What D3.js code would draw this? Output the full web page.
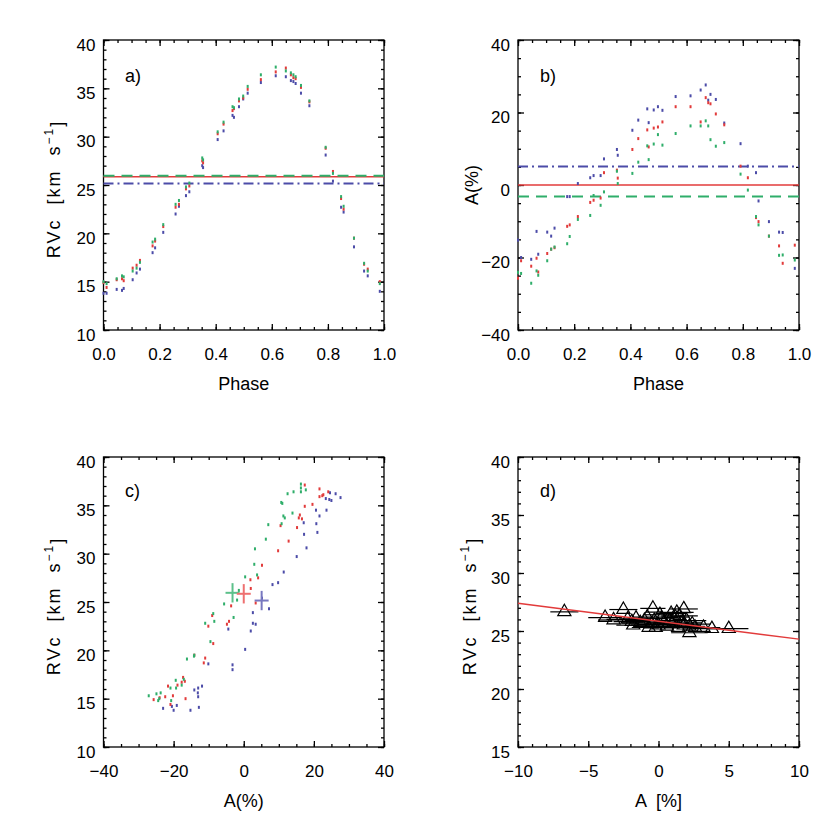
<!DOCTYPE html>
<meta charset="utf-8">
<style>
  body { margin: 0; background: #fff; }
  svg text { font-family: "Liberation Sans", "DejaVu Sans", sans-serif; fill: #000; }
  .axis path, .axis line { stroke: #000; stroke-width: 1.3px; }
  .axis text { font-size: 17px; }
</style>
<body>
<svg width="830" height="830"></svg>
<script src="https://cdnjs.cloudflare.com/ajax/libs/d3/7.8.5/d3.min.js"></script>
<script>
// orbital phase of each spectrum
var phase = [0.000, 0.011, 0.047, 0.066, 0.072, 0.104, 0.118, 0.130, 0.175, 0.184,
  0.213, 0.257, 0.269, 0.294, 0.306, 0.352, 0.355, 0.407, 0.428, 0.460,
  0.465, 0.483, 0.498, 0.514, 0.561, 0.614, 0.650, 0.668, 0.677, 0.685,
  0.704, 0.734, 0.792, 0.818, 0.847, 0.856, 0.893, 0.929, 0.942, 0.985];

// RVc (km/s) per line
var rvRed = [14.9, 14.4, 15.2, 15.3, 15.1, 16.4, 16.7, 17.2, 18.7, 19.2,
  20.7, 22.7, 23.0, 24.6, 24.9, 27.5, 27.3, 30.3, 31.3, 32.7,
  32.9, 33.7, 34.0, 34.9, 35.9, 36.7, 37.1, 36.4, 36.1, 36.0,
  35.1, 33.6, 28.8, 26.4, 23.6, 22.5, 19.5, 16.8, 16.3, 15.0];
var rvGreen = [15.0, 14.8, 15.3, 15.6, 15.5, 16.1, 16.4, 17.0, 19.1, 19.4,
  20.9, 23.0, 23.4, 24.8, 25.2, 27.8, 27.6, 30.5, 31.5, 33.1,
  33.0, 33.9, 34.2, 35.2, 36.4, 37.2, 36.8, 36.6, 36.4, 36.2,
  35.3, 33.7, 28.9, 26.2, 23.8, 22.8, 19.5, 16.9, 16.1, 14.8];
var rvBlue = [13.8, 13.8, 14.2, 14.1, 14.3, 15.2, 15.9, 16.3, 18.0, 18.5,
  20.1, 22.0, 22.8, 23.9, 24.3, 27.0, 26.8, 29.7, 30.6, 32.2,
  32.0, 33.1, 33.9, 34.5, 35.6, 36.3, 36.2, 35.8, 35.7, 35.5,
  34.5, 33.2, 28.1, 25.4, 22.7, 22.2, 18.6, 16.1, 15.6, 14.0];

// asymmetry A (%) per line
var aRed = [-25.7, -20.9, -22.4, -20.2, -24.0, -18.9, -17.7, -17.3, -11.4, -11.0,
  -8.7, -4.8, -4.2, -3.6, 3.4, 4.1, 1.9, 9.8, 12.8, 15.2,
  10.5, 15.7, 16.0, 17.4, 21.6, 21.6, 17.4, 24.1, 22.7, 22.4,
  19.6, 16.6, 5.2, 2.0, -9.0, -10.1, -14.1, -16.8, -21.6, -16.6];
var aGreen = [-24.1, -24.4, -27.1, -23.7, -24.9, -20.9, -17.7, -17.1, -16.2, -14.2,
  -9.5, -8.4, -2.9, -5.6, -1.9, 3.8, 0.4, 3.2, 6.3, 10.8,
  7.0, 11.3, 13.9, 11.0, 14.2, 16.3, 16.3, 17.7, 16.3, 12.5,
  10.7, 11.7, 3.0, -1.4, -8.7, -11.0, -14.1, -19.4, -19.3, -20.7];
var aBlue = [-15.2, -20.0, -20.5, -12.8, -19.1, -13.0, -14.1, -11.9, -3.2, -3.2,
  0.4, 2.0, 2.6, 2.6, 7.2, 9.8, 8.2, 15.1, 17.9, 21.0,
  17.2, 20.7, 21.6, 20.6, 24.4, 24.6, 26.2, 27.6, 23.4, 25.0,
  23.6, 17.1, 11.4, 5.2, 3.4, -4.4, -10.1, -13.0, -13.1, -23.0];

// mean values: red, green, blue
var meanA = [0.0, -3.2, 5.1];
var meanRV = [25.85, 25.95, 25.15];
var errA = [2.0, 2.0, 2.0];
var errRV = [1.0, 1.0, 1.0];

// panel d: mean asymmetry vs RVc, with error on A
var dA = [-6.7, -3.8, -3.2, -2.5, -1.9, -0.7, -0.4, 0.9, 1.3, 1.8,
  2.2, 3.2, 3.8, 5.0, -2.2, -1.6, -1.3, -1.0, -0.8, -0.5,
  -0.3, 0.0, 0.2, 0.4, 0.6, 0.8, 1.0, 1.2, 1.4, 1.6,
  1.8, 2.0, 2.2, 2.4, -1.8, 0.1, 1.5, 2.6, -0.2];
var dRV = [26.65, 26.15, 25.95, 26.85, 25.8, 25.3, 26.95, 26.5, 26.6, 26.9,
  24.85, 25.3, 25.2, 25.2, 26.0, 26.1, 25.7, 25.9, 26.2, 25.6,
  25.9, 25.5, 26.1, 25.7, 25.4, 25.9, 25.6, 26.2, 25.3, 25.7,
  25.5, 25.9, 25.4, 25.6, 25.5, 26.4, 26.3, 25.3, 25.3];
var dErr = [1.0, 1.2, 1.1, 1.0, 1.3, 1.2, 0.9, 1.1, 1.2, 1.0,
  1.3, 1.2, 1.4, 1.4, 1.5, 1.2, 1.3, 1.4, 1.1, 1.5,
  1.2, 1.4, 1.3, 1.1, 1.5, 1.2, 1.4, 1.0, 1.3, 1.5,
  1.2, 1.4, 1.1, 1.3, 1.2, 1.0, 1.3, 1.4, 1.2];
var fitA = [-10, 10];
var fitRV = [27.4, 24.3];

var colRed = "#e23b3b", colGreen = "#2fae6a", colBlue = "#4c4ca8";
var crossCol = ["#ee7070", "#5cc08a", "#7878c0"];

var svg = d3.select("svg");

function frame(box, x, y, xMaj, xMin, yMaj, yMin, xFmt, yFmt) {
  var g = svg.append("g");
  g.append("g").attr("class", "axis").attr("transform", "translate(0," + box.y1 + ")")
    .call(d3.axisBottom(x).tickValues(xMaj).tickSizeInner(-6).tickSizeOuter(0).tickPadding(18).tickFormat(xFmt));
  g.append("g").attr("class", "axis").attr("transform", "translate(0," + box.y1 + ")")
    .call(d3.axisBottom(x).tickValues(xMin).tickSizeInner(-3).tickSizeOuter(0).tickFormat(""));
  g.append("g").attr("class", "axis").attr("transform", "translate(0," + box.y0 + ")")
    .call(d3.axisTop(x).tickValues(xMaj).tickSizeInner(-6).tickSizeOuter(0).tickFormat(""));
  g.append("g").attr("class", "axis").attr("transform", "translate(0," + box.y0 + ")")
    .call(d3.axisTop(x).tickValues(xMin).tickSizeInner(-3).tickSizeOuter(0).tickFormat(""));
  var ly = g.append("g").attr("class", "axis").attr("transform", "translate(" + box.x0 + ",0)")
    .call(d3.axisLeft(y).tickValues(yMaj).tickSizeInner(-6).tickSizeOuter(0).tickPadding(8).tickFormat(yFmt));
  ly.selectAll("text").attr("dy", "0.6em");
  g.append("g").attr("class", "axis").attr("transform", "translate(" + box.x0 + ",0)")
    .call(d3.axisLeft(y).tickValues(yMin).tickSizeInner(-3).tickSizeOuter(0).tickFormat(""));
  g.append("g").attr("class", "axis").attr("transform", "translate(" + box.x1 + ",0)")
    .call(d3.axisRight(y).tickValues(yMaj).tickSizeInner(-6).tickSizeOuter(0).tickFormat(""));
  g.append("g").attr("class", "axis").attr("transform", "translate(" + box.x1 + ",0)")
    .call(d3.axisRight(y).tickValues(yMin).tickSizeInner(-3).tickSizeOuter(0).tickFormat(""));
  g.selectAll(".axis .domain").remove();
  g.append("rect").attr("x", box.x0).attr("y", box.y0)
    .attr("width", box.x1 - box.x0).attr("height", box.y1 - box.y0)
    .attr("fill", "none").attr("stroke", "#000").attr("stroke-width", 1.3);
  return g;
}

function steps(a, b, s) {
  return d3.range(Math.round((b - a) / s) + 1).map(function(i) { return +(a + i * s).toFixed(4); });
}

function minus(v) { return d3.format("")(v).replace("-", "\u2212"); }

function rvLabel(cx, cy) {
  var t = svg.append("text").attr("transform", "translate(" + cx + "," + cy + ") rotate(-90)")
    .attr("text-anchor", "middle").style("font-size", "18px").style("white-space", "pre")
    .style("letter-spacing", "2px");
  t.append("tspan").text("RVc  [km  s");
  t.append("tspan").attr("dy", "-0.55em").style("font-size", "12px").text("\u22121");
  t.append("tspan").attr("dy", "0.55em").text("]");
}

function dots(g, x, y, xs, ys, col) {
  g.selectAll(null).data(xs).enter().append("rect")
    .attr("x", function(d) { return x(d) - 1; })
    .attr("y", function(d, i) { return y(ys[i]) - 1.5; })
    .attr("width", 2).attr("height", 3).attr("fill", col);
}

var boxA = {x0: 103.5, x1: 384, y0: 40, y1: 330};
var boxB = {x0: 518, x1: 799, y0: 40, y1: 330};
var boxC = {x0: 103.5, x1: 384, y0: 457, y1: 747};
var boxD = {x0: 518, x1: 799, y0: 457, y1: 747};

// ---- a) phase vs RVc
var xa = d3.scaleLinear().domain([0, 1]).range([boxA.x0, boxA.x1]);
var ya = d3.scaleLinear().domain([10, 40]).range([boxA.y1, boxA.y0]);
var ga = frame(boxA, xa, ya, steps(0, 1, 0.2), steps(0, 1, 0.05), steps(10, 40, 5), steps(10, 40, 1),
  d3.format(".1f"), d3.format("d"));
ga.append("line").attr("x1", xa(0)).attr("x2", xa(1)).attr("y1", ya(meanRV[0])).attr("y2", ya(meanRV[0]))
  .attr("stroke", colRed).attr("stroke-width", 1.5);
ga.append("line").attr("x1", xa(0)).attr("x2", xa(1)).attr("y1", ya(meanRV[1])).attr("y2", ya(meanRV[1]))
  .attr("stroke", colGreen).attr("stroke-width", 2).attr("stroke-dasharray", "11,7");
ga.append("line").attr("x1", xa(0)).attr("x2", xa(1)).attr("y1", ya(meanRV[2])).attr("y2", ya(meanRV[2]))
  .attr("stroke", colBlue).attr("stroke-width", 2).attr("stroke-dasharray", "10,4,2,4");
dots(ga, xa, ya, phase, rvBlue, colBlue);
dots(ga, xa, ya, phase, rvRed, colRed);
dots(ga, xa, ya, phase, rvGreen, colGreen);
svg.append("text").attr("x", 125).attr("y", 82).style("font-size", "18px").text("a)");
svg.append("text").attr("x", xa(0.5)).attr("y", 390).attr("text-anchor", "middle").style("font-size", "18px").text("Phase");
rvLabel(60, 189);

// ---- b) phase vs A
var xb = d3.scaleLinear().domain([0, 1]).range([boxB.x0, boxB.x1]);
var yb = d3.scaleLinear().domain([-40, 40]).range([boxB.y1, boxB.y0]);
var gb = frame(boxB, xb, yb, steps(0, 1, 0.2), steps(0, 1, 0.05), steps(-40, 40, 20), steps(-40, 40, 5),
  d3.format(".1f"), minus);
gb.append("line").attr("x1", xb(0)).attr("x2", xb(1)).attr("y1", yb(meanA[0])).attr("y2", yb(meanA[0]))
  .attr("stroke", colRed).attr("stroke-width", 1.5);
gb.append("line").attr("x1", xb(0)).attr("x2", xb(1)).attr("y1", yb(meanA[1])).attr("y2", yb(meanA[1]))
  .attr("stroke", colGreen).attr("stroke-width", 2).attr("stroke-dasharray", "11,7");
gb.append("line").attr("x1", xb(0)).attr("x2", xb(1)).attr("y1", yb(meanA[2])).attr("y2", yb(meanA[2]))
  .attr("stroke", colBlue).attr("stroke-width", 2).attr("stroke-dasharray", "10,4,2,4");
dots(gb, xb, yb, phase, aBlue, colBlue);
dots(gb, xb, yb, phase, aRed, colRed);
dots(gb, xb, yb, phase, aGreen, colGreen);
svg.append("text").attr("x", 540).attr("y", 82).style("font-size", "18px").text("b)");
svg.append("text").attr("x", xb(0.5)).attr("y", 390).attr("text-anchor", "middle").style("font-size", "18px").text("Phase");
svg.append("text").attr("transform", "translate(478,185) rotate(-90)").attr("text-anchor", "middle")
  .style("font-size", "18px").text("A(%)");

// ---- c) A vs RVc
var xc = d3.scaleLinear().domain([-40, 40]).range([boxC.x0, boxC.x1]);
var yc = d3.scaleLinear().domain([10, 40]).range([boxC.y1, boxC.y0]);
var gc = frame(boxC, xc, yc, steps(-40, 40, 20), steps(-40, 40, 5), steps(10, 40, 5), steps(10, 40, 1),
  minus, d3.format("d"));
dots(gc, xc, yc, aBlue, rvBlue, colBlue);
dots(gc, xc, yc, aRed, rvRed, colRed);
dots(gc, xc, yc, aGreen, rvGreen, colGreen);
[1, 0, 2].forEach(function(k) {
  gc.append("line").attr("x1", xc(meanA[k] - errA[k])).attr("x2", xc(meanA[k] + errA[k]))
    .attr("y1", yc(meanRV[k])).attr("y2", yc(meanRV[k])).attr("stroke", crossCol[k]).attr("stroke-width", 2);
  gc.append("line").attr("x1", xc(meanA[k])).attr("x2", xc(meanA[k]))
    .attr("y1", yc(meanRV[k] - errRV[k])).attr("y2", yc(meanRV[k] + errRV[k])).attr("stroke", crossCol[k]).attr("stroke-width", 2);
});
svg.append("text").attr("x", 125).attr("y", 497).style("font-size", "18px").text("c)");
svg.append("text").attr("x", xc(0)).attr("y", 807).attr("text-anchor", "middle").style("font-size", "18px").text("A(%)");
rvLabel(60, 606);

// ---- d) A vs RVc, averaged
var xd = d3.scaleLinear().domain([-10, 10]).range([boxD.x0, boxD.x1]);
var yd = d3.scaleLinear().domain([15, 40]).range([boxD.y1, boxD.y0]);
var gd = frame(boxD, xd, yd, steps(-10, 10, 5), steps(-10, 10, 1), steps(15, 40, 5), steps(15, 40, 1),
  minus, d3.format("d"));
gd.selectAll(null).data(dA).enter().append("line")
  .attr("x1", function(d, i) { return xd(d - dErr[i]); })
  .attr("x2", function(d, i) { return xd(d + dErr[i]); })
  .attr("y1", function(d, i) { return yd(dRV[i]); })
  .attr("y2", function(d, i) { return yd(dRV[i]); })
  .attr("stroke", "#000").attr("stroke-width", 1.2);
gd.selectAll(null).data(dA).enter().append("path")
  .attr("d", d3.symbol().type(d3.symbolTriangle).size(75))
  .attr("transform", function(d, i) { return "translate(" + xd(d) + "," + yd(dRV[i]) + ")"; })
  .attr("fill", "none").attr("stroke", "#000").attr("stroke-width", 1.2);
gd.append("line").attr("x1", xd(fitA[0])).attr("x2", xd(fitA[1]))
  .attr("y1", yd(fitRV[0])).attr("y2", yd(fitRV[1])).attr("stroke", colRed).attr("stroke-width", 1.5);
svg.append("text").attr("x", 540).attr("y", 497).style("font-size", "18px").text("d)");
svg.append("text").attr("x", xd(0)).attr("y", 807).attr("text-anchor", "middle").style("font-size", "18px")
  .style("white-space", "pre").text("A  [%]");
rvLabel(476, 606);
</script>
</body>
